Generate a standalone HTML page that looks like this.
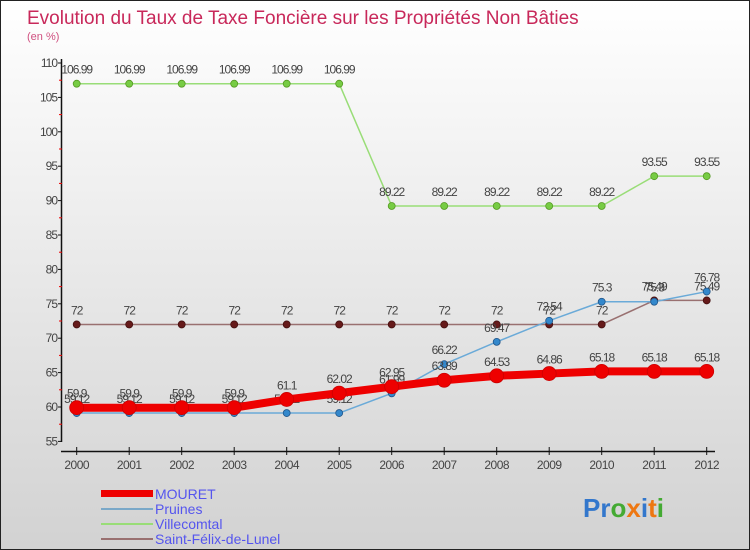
<!DOCTYPE html>
<html><head><meta charset="utf-8"><style>
html,body{margin:0;padding:0}
body{width:750px;height:550px;overflow:hidden;font-family:"Liberation Sans",sans-serif}
#wrap{position:relative;width:748px;height:548px;border:1px solid #222;background:linear-gradient(#ffffff,#d2d2d2)}
</style></head><body>
<div id="wrap">
<svg width="748" height="548" id="chart" style="position:absolute;left:0;top:0">
<text x="26" y="23" font-size="19" fill="#c8285a">Evolution du Taux de Taxe Foncière sur les Propriétés Non Bâties</text>
<text x="26" y="39" font-size="11" fill="#d05080">(en %)</text>
<g id="axes"></g><g id="series"></g>
<g>
<rect x="100" y="489" width="52" height="7" fill="#ee0000"/>
<text x="154" y="498" font-size="14" fill="#5555ee">MOURET</text>
<rect x="100" y="507" width="52" height="2" fill="#7aa8c8"/>
<text x="154" y="513" font-size="14" fill="#5555ee">Pruines</text>
<rect x="100" y="522" width="52" height="2" fill="#99dd77"/>
<text x="154" y="528" font-size="14" fill="#5555ee">Villecomtal</text>
<rect x="100" y="537" width="52" height="2" fill="#997070"/>
<text x="154" y="543" font-size="14" fill="#5555ee">Saint-Félix-de-Lunel</text>
</g>
<text x="582" y="516" font-size="26" font-weight="bold"><tspan fill="#3377cc">Pr</tspan><tspan fill="#44aa33">o</tspan><tspan fill="#ee7711">x</tspan><tspan fill="#3377cc">i</tspan><tspan fill="#ee7711">t</tspan><tspan fill="#44aa33">i</tspan></text>
</svg>
</div>
<script>
const years=[2000,2001,2002,2003,2004,2005,2006,2007,2008,2009,2010,2011,2012];
const mouret=[59.9,59.9,59.9,59.9,61.1,62.02,62.95,63.89,64.53,64.86,65.18,65.18,65.18];
const pruines=[59.12,59.12,59.12,59.12,59.12,59.12,61.99,66.22,69.47,72.54,75.3,75.3,76.78];
const villecomtal=[106.99,106.99,106.99,106.99,106.99,106.99,89.22,89.22,89.22,89.22,89.22,93.55,93.55];
const saintFelix=[72,72,72,72,72,72,72,72,72,72,72,75.49,75.49];
const yTicks=[55,60,65,70,75,80,85,90,95,100,105,110];
const NS='http://www.w3.org/2000/svg';
const x=i=>75.7+i*52.5;
const y=v=>406-(v-60)*6.88;
function mk(tag,attrs,parent){const e=document.createElementNS(NS,tag);for(const k in attrs)e.setAttribute(k,attrs[k]);parent.appendChild(e);return e;}
const ax=document.getElementById('axes');
let l=mk('line',{x1:60.5,y1:58,x2:60.5,y2:441,stroke:'#111','stroke-width':1.5},ax);


l=mk('line',{x1:60,y1:450.5,x2:714,y2:450.5,stroke:'#111','stroke-width':1.5},ax);


yTicks.forEach(v=>{
  mk('line',{x1:57,y1:y(v),x2:61,y2:y(v),stroke:'#111'},ax);
  if(v<110) mk('line',{x1:58,y1:y(v+2.5),x2:61,y2:y(v+2.5),stroke:'#e00'},ax);
  const t=mk('text',{x:56,y:y(v)+4,'font-size':12,'text-anchor':'end',fill:'#444','letter-spacing':'-1'},ax);
  t.textContent=v;
  
  
});
years.forEach((yr,i)=>{
  mk('line',{x1:x(i),y1:446,x2:x(i),y2:454,stroke:'#111'},ax);
  const t=mk('text',{x:x(i),y:468,'font-size':12,'text-anchor':'middle',fill:'#444','letter-spacing':'-0.5'},ax);
  t.textContent=yr;
  
  
});
const sg=document.getElementById('series');
function draw(vals,name,line,w,dot,r,dotStroke){
  const g=mk('g',{},sg);
  
  
  const p=mk('polyline',{points:vals.map((v,i)=>x(i)+','+y(v)).join(' '),fill:'none',stroke:line,'stroke-width':w,'stroke-linejoin':'round'},g);
  
  
  vals.forEach((v,i)=>{
    const c=mk('circle',{cx:x(i),cy:y(v),r:r,fill:dot,stroke:dotStroke,'stroke-width':0.8},g);
    
    
    const t=mk('text',{x:x(i),y:y(v)-10,'font-size':12,'text-anchor':'middle',fill:'#444','letter-spacing':'-1'},g);
    t.textContent=v;
    
    
  });
}
draw(villecomtal,'villecomtal','#99dd77',1.5,'#77cc44',3.5,'#559922');
draw(saintFelix,'saint-felix','#997070',1.5,'#661a1a',3.5,'#441010');
draw(pruines,'pruines','#6aaad8',1.5,'#3388cc',3.5,'#225588');
draw(mouret,'mouret','#ee0000',8,'#ee0000',7,'#cc0000');
</script>
</body></html>
